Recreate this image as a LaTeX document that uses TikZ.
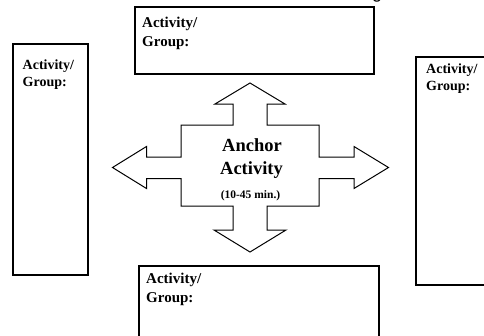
\documentclass[tikz,border=0pt]{standalone}
\usepackage{fontspec}
\setmainfont{Liberation Serif}
\newfontfamily\titlesans{Liberation Sans}
\begin{document}
\begin{tikzpicture}[x=1pt,y=-1pt,
  box/.style={draw=black,line width=1.2pt},
  lbl/.style={anchor=base west,inner sep=0pt,align=left,font=\bfseries\fontsize{15}{19}\selectfont},
  lbls/.style={anchor=base west,inner sep=0pt,align=left,font=\bfseries\fontsize{14}{17}\selectfont},
  crossline/.style={draw=black,line width=1pt,line join=miter}]
\useasboundingbox (0,0) rectangle (484,335);
% cut-off title descender
\node[anchor=base,inner sep=0pt,font=\titlesans\fontsize{18}{20}\selectfont] (title) at (377,-1.5) {g};
% boxes
\draw[box] (135,7) rectangle (374,74);
\coordinate (topbox) at (135,7);
\node[lbl] (toplbl) at (142,46) {Activity/\\Group:};
\draw[box] (13,44) rectangle (88,275);
\coordinate (leftbox) at (13,44);
\node[lbls] (leftlbl) at (22.5,86) {Activity/\\Group:};
\draw[box] (416,57) rectangle (492,285);
\coordinate (rightbox) at (416,57);
\node[lbls] (rightlbl) at (426,90) {Activity/\\Group:};
\draw[box] (139,266) rectangle (379,345);
\coordinate (bottombox) at (139,266);
\node[lbl] (bottomlbl) at (146,302) {Activity/\\Group:};
% cross-shaped arrow
\draw[crossline] (250,83) -- (285,104) -- (267,104) -- (267,125) -- (319,125) -- (319,157)
  -- (354,157) -- (354,146.5) -- (388.5,167.5) -- (354,188.5) -- (354,178.5) -- (319,178.5)
  -- (319,206) -- (267,206) -- (267,230) -- (286,230) -- (250,252) -- (214,230) -- (233,230)
  -- (233,206) -- (181,206) -- (181,178.5) -- (146.5,178.5) -- (146.5,188.5) -- (112.5,167.5)
  -- (146.5,146.5) -- (146.5,157) -- (181,157) -- (181,125) -- (233,125) -- (233,104)
  -- (215,104) -- cycle;
\node[anchor=base,inner sep=0pt,font=\bfseries\fontsize{18.5}{22}\selectfont] (anchor1) at (252,151.5) {Anchor};
\node[anchor=base,inner sep=0pt,font=\bfseries\fontsize{18.5}{22}\selectfont] (anchor2) at (251.5,174) {Activity};
\node[anchor=base,inner sep=0pt,font=\bfseries\fontsize{11.5}{13}\selectfont] (anchor3) at (250.5,198) {(10-45 min.)};
\end{tikzpicture}
\end{document}
